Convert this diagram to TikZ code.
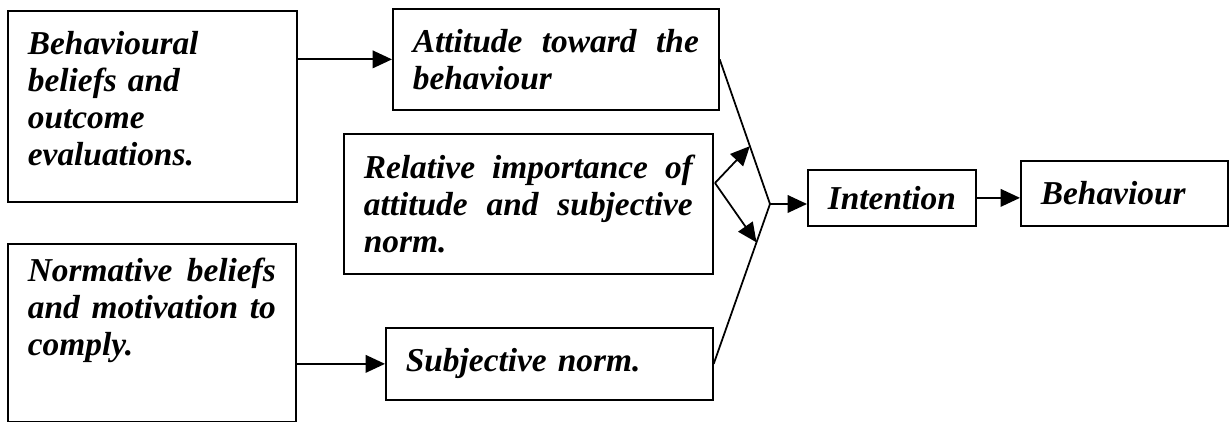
\documentclass[tikz,border=0pt]{standalone}
\usepackage{fontspec}
\setmainfont{Liberation Serif}
\usetikzlibrary{arrows.meta,positioning,calc}

\begin{document}
\begin{tikzpicture}[
  x=0.02cm, y=-0.02cm,
  box/.style={draw, line width=1pt, anchor=north west, inner xsep=0.4cm, inner ysep=0pt, align=justify, font=\bfseries\itshape\fontsize{19}{21}\selectfont},
  arr/.style={-{Triangle[length=11pt,width=10pt]}, line width=1pt},
  ln/.style={line width=1pt}
]
\useasboundingbox (0,0) rectangle (1232,422);

\node[box, align=left, text width=4.98cm, minimum height=3.82cm] (beliefs) at (7,10) {Behavioural\\beliefs and\\outcome\\evaluations.\rule[-9pt]{0pt}{0pt}};
\node[box, text width=4.96cm, minimum height=3.56cm] (normative) at (7,243) {Normative beliefs\linebreak and motivation to\linebreak comply.\rule[-30pt]{0pt}{0pt}};
\node[box, text width=5.72cm, minimum height=2.02cm] (attitude) at (392,8) {Attitude toward the\linebreak behaviour};
\node[box, text width=6.58cm, minimum height=2.8cm] (relative) at (343,133) {Relative importance of\linebreak attitude and subjective\linebreak norm.};
\node[box, align=left, text width=5.74cm, minimum height=1.44cm] (subjective) at (385,327) {Subjective norm.};
\node[box, align=left, text width=2.56cm, minimum height=1.12cm] (intention) at (807,169) {Intention};
\node[box, align=left, text width=3.34cm, minimum height=1.3cm] (behaviour) at (1020,160) {Behaviour};

\coordinate (join) at (770,204);
\coordinate (fork) at (715,183);

\draw[arr] (attitude.west -| beliefs.east) -- (attitude.west);
\draw[arr] (subjective.west -| normative.east) -- (subjective.west);
\draw[ln] (attitude.east) -- (join) -- (subjective.east);
\draw[arr] (join) -- (join -| intention.west);
\draw[arr] (fork) -- ($(attitude.east)!0.6!(join)$);
\draw[arr] (fork) -- ($(subjective.east)!0.76!(join)$);
\draw[arr] (intention.east) -- (intention.east -| behaviour.west);
\end{tikzpicture}
\end{document}
